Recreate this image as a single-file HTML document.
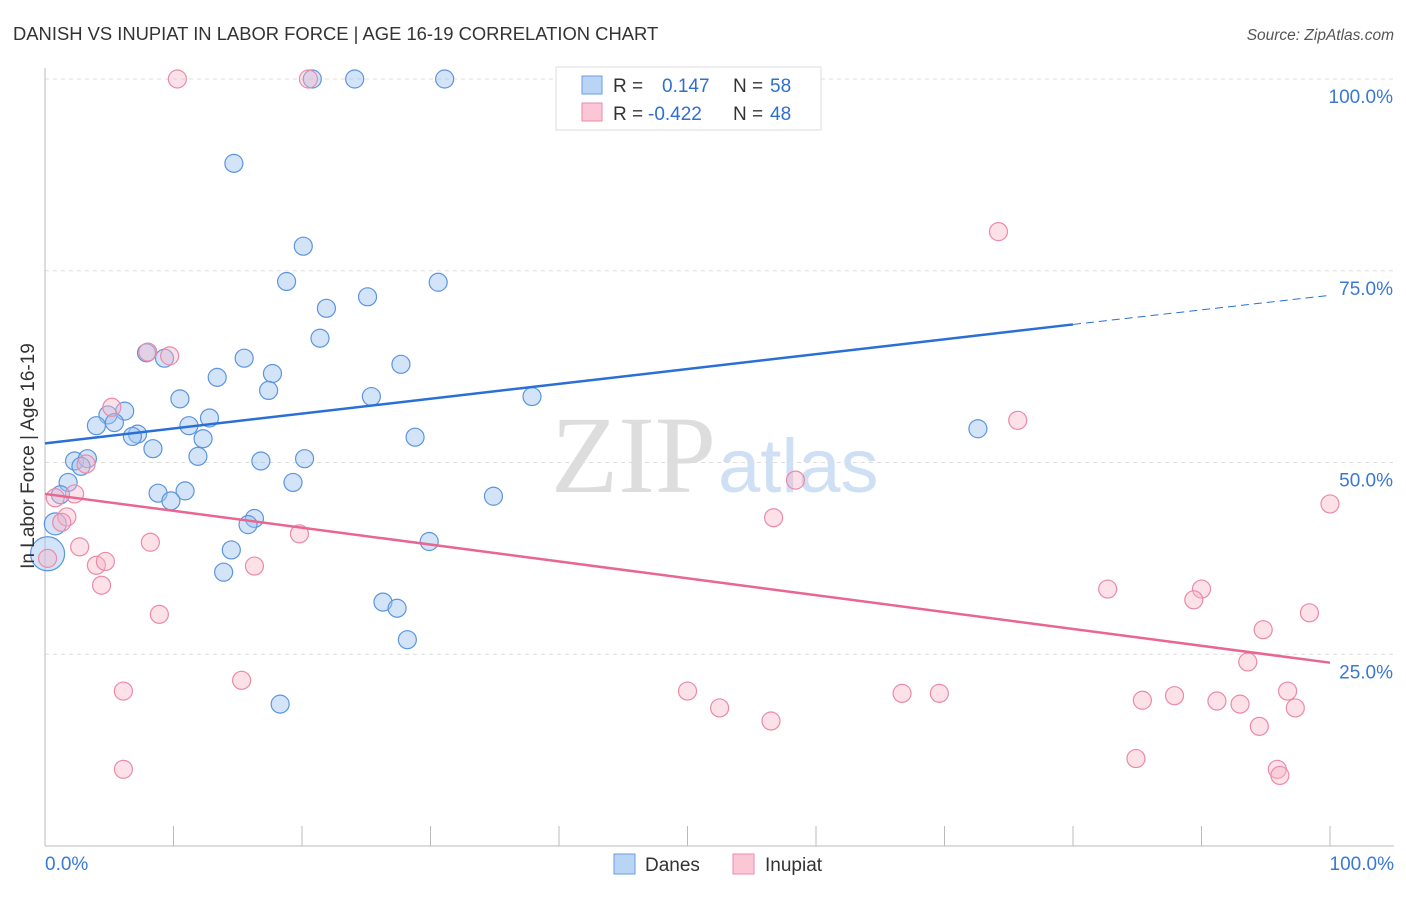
<!DOCTYPE html>
<html><head><meta charset="utf-8"><style>
body{margin:0;background:#fff;font-family:"Liberation Sans",sans-serif}
</style></head><body>
<svg width="1406" height="892" xmlns="http://www.w3.org/2000/svg" font-family="Liberation Sans, sans-serif">
<text x="13" y="40" font-size="18.4" fill="#333">DANISH VS INUPIAT IN LABOR FORCE | AGE 16-19 CORRELATION CHART</text>
<text x="1394" y="40" font-size="15.5" fill="#555" text-anchor="end" font-style="italic">Source: ZipAtlas.com</text>
<g id="grid"></g>
<text x="716" y="492" font-size="110" fill="#ddd" text-anchor="end" font-family="Liberation Serif, serif">ZIP</text>
<text x="718" y="492" font-size="76" fill="#cfe0f5">atlas</text>
<g id="marks"></g>
<text x="34" y="456" font-size="19" fill="#333" text-anchor="middle" transform="rotate(-90 34 456)">In Labor Force | Age 16-19</text>
<g>
<rect x="556" y="67" width="265" height="63" fill="#fff" stroke="#ddd"/>
<rect x="582" y="76" width="20" height="18" fill="#b9d4f5" stroke="#6a9ee0"/>
<rect x="582" y="103" width="20" height="18" fill="#fbc6d6" stroke="#ec8aa8"/>
<text x="613" y="92" font-size="19" fill="#333">R =</text>
<text x="662" y="92" font-size="19" fill="#2f6fd0">0.147</text>
<text x="733" y="92" font-size="19" fill="#333">N =</text>
<text x="770" y="92" font-size="19" fill="#2f6fd0">58</text>
<text x="613" y="120" font-size="19" fill="#333">R =</text>
<text x="648" y="120" font-size="19" fill="#2f6fd0">-0.422</text>
<text x="733" y="120" font-size="19" fill="#333">N =</text>
<text x="770" y="120" font-size="19" fill="#2f6fd0">48</text>
</g>
<g>
<rect x="614" y="854" width="21" height="20" fill="#b9d4f5" stroke="#6a9ee0"/>
<text x="645" y="871" font-size="19" fill="#333">Danes</text>
<rect x="733" y="854" width="21" height="20" fill="#fbc6d6" stroke="#ec8aa8"/>
<text x="765" y="871" font-size="19" fill="#333">Inupiat</text>
</g>
</svg>
<script>
const xTicks=[0,10,20,30,40,50,60,70,80,90,100];
const yTicks=[25,50,75,100];
const blueX=[20.8,24.1,31.1,14.7,20.1,18.8,30.6,25.1,21.9,21.4,7.9,9.3,15.5,27.7,13.4,17.7,17.4,25.4,37.9,10.5,6.2,4.9,4.0,5.4,12.8,11.2,7.2,6.8,28.8,12.3,8.4,11.9,16.8,20.2,2.3,3.3,2.8,19.3,1.8,10.9,8.8,9.8,34.9,1.2,16.3,15.8,29.9,14.5,0.8,13.9,26.3,27.4,28.2,18.3,72.6,0.2];
const blueY=[100,100,100,89,78.2,73.6,73.5,71.6,70.1,66.2,64.3,63.6,63.6,62.8,61.1,61.6,59.4,58.6,58.6,58.3,56.7,56.2,54.8,55.2,55.8,54.8,53.7,53.4,53.3,53.1,51.8,50.8,50.2,50.5,50.2,50.5,49.5,47.4,47.4,46.3,46.0,45.0,45.6,45.8,42.7,41.9,39.7,38.6,42.0,35.7,31.8,31.0,26.9,18.5,54.4,38.1];
const blueR=[9,9,9,9,9,9,9,9,9,9,9,9,9,9,9,9,9,9,9,9,9,9,9,9,9,9,9,9,9,9,9,9,9,9,9,9,9,9,9,9,9,9,9,9,9,9,9,9,11,9,9,9,9,9,9,17];
const pinkX=[10.3,20.5,74.2,8.0,9.7,5.2,3.2,75.7,58.4,2.3,0.8,1.7,1.3,56.7,19.8,8.2,2.7,100,4.0,4.7,16.3,4.4,82.7,90.0,89.4,8.9,98.4,94.8,93.6,6.1,15.3,50.0,66.7,69.6,85.4,87.9,96.7,91.2,93.0,52.5,97.3,56.5,94.5,84.9,6.1,95.9,96.1,0.2];
const pinkY=[100,100,80.1,64.4,63.9,57.2,49.8,55.5,47.7,45.9,45.4,42.9,42.2,42.8,40.7,39.6,39.0,44.6,36.6,37.1,36.5,34.0,33.5,33.5,32.1,30.2,30.4,28.2,24.0,20.2,21.6,20.2,19.9,19.9,19.0,19.6,20.2,18.9,18.5,18.0,18.0,16.3,15.6,11.4,10.0,10.0,9.2,37.5];
const blueTrend=[52.5,68.0,71.8];
const pinkTrend=[45.9,23.9];
const X0=45,X1=1330,Y100=79,Y0=846;
const sx=v=>X0+(X1-X0)*v/100, sy=v=>Y0-(Y0-Y100)*v/100;
const NS="http://www.w3.org/2000/svg";
function mk(t,a,p){const e=document.createElementNS(NS,t);for(const k in a)e.setAttribute(k,a[k]);p.appendChild(e);return e;}
const grid=document.getElementById('grid');
yTicks.forEach(t=>{const l=mk('line',{x1:X0,x2:1394,y1:sy(t),y2:sy(t),stroke:'#ddd','stroke-dasharray':'4,4'},grid);


const tx=mk('text',{x:1393,y:sy(t)+24,'font-size':19,fill:'#3a78d4','text-anchor':'end'},grid);tx.textContent=t.toFixed(1)+'%';

});
const ax=mk('line',{x1:X0,x2:X0,y1:68,y2:Y0,stroke:'#bbb'},grid);


const bx=mk('line',{x1:X0,x2:1394,y1:Y0,y2:Y0,stroke:'#bbb'},grid);


xTicks.forEach(t=>{const l=mk('line',{x1:sx(t),x2:sx(t),y1:826,y2:Y0,stroke:'#bbb'},grid);

});
[[0,'0.0%','start',45],[100,'100.0%','end',1394]].forEach(a=>{const tx=mk('text',{x:a[3],y:870,'font-size':19,fill:'#3a78d4','text-anchor':a[2]},grid);tx.textContent=a[1];

});
const m=document.getElementById('marks');
blueX.forEach((v,i)=>{const c=mk('circle',{cx:sx(v),cy:sy(blueY[i]),r:blueR[i],fill:'rgba(160,196,240,0.45)',stroke:'#5b95de','stroke-width':1.2},m);

});
pinkX.forEach((v,i)=>{const c=mk('circle',{cx:sx(v),cy:sy(pinkY[i]),r:9,fill:'rgba(248,180,200,0.4)',stroke:'#eb8aa8','stroke-width':1.2},m);

});
let l=mk('line',{x1:sx(0),y1:sy(blueTrend[0]),x2:sx(80),y2:sy(blueTrend[1]),stroke:'#2a6fd6','stroke-width':2.5},m);


l=mk('line',{x1:sx(80),y1:sy(blueTrend[1]),x2:sx(100),y2:sy(blueTrend[2]),stroke:'#2a6fd6','stroke-width':1,'stroke-dasharray':'8,5'},m);


l=mk('line',{x1:sx(0),y1:sy(pinkTrend[0]),x2:sx(100),y2:sy(pinkTrend[1]),stroke:'#e8668f','stroke-width':2.5},m);


</script>
</body></html>
